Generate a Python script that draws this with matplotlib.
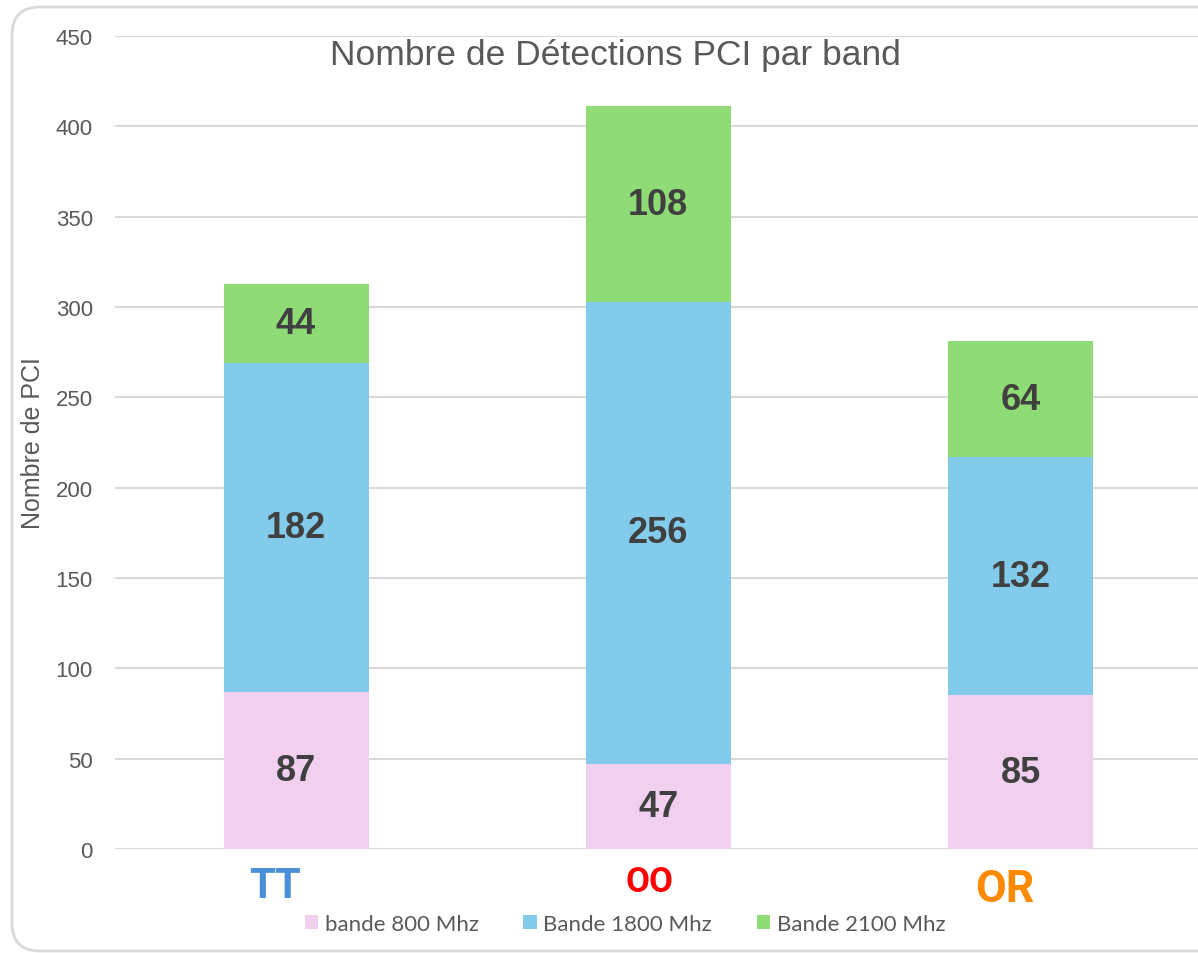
import numpy as np
import matplotlib
matplotlib.use('Agg')
import matplotlib.pyplot as plt
from matplotlib.patches import FancyBboxPatch
from matplotlib.transforms import IdentityTransform, ScaledTranslation

operators = ['TT', 'OO', 'OR']
op_colors = ['#4A90D9', '#FF0000', '#FF8A00']
op_sizes = [30, 25, 32]
band_800 = [87, 47, 85]
band_1800 = [182, 256, 132]
band_2100 = [44, 108, 64]
series_names = ['bande 800 Mhz', 'Bande 1800 Mhz', 'Bande 2100 Mhz']
series_colors = ['#F1CFEE', '#83CBEA', '#8FDB75']
yticks = [0, 50, 100, 150, 200, 250, 300, 350, 400, 450]

plt.rcParams['font.family'] = ['Liberation Sans', 'DejaVu Sans']

fig = plt.figure(figsize=(11.98, 9.54), dpi=100)
ax = fig.add_axes([115/1198, 1 - 850/954, 1 - 115/1198, (850 - 37)/954])

x = np.arange(len(operators))
width = 0.40
bottom = np.zeros(len(operators))
bars_all = []
for vals, name, col in zip([band_800, band_1800, band_2100], series_names, series_colors):
    bars = ax.bar(x, vals, width, bottom=bottom, color=col, label=name, zorder=3)
    bars_all.append(bars)
    for xi, b, v in zip(x, bottom, vals):
        ax.text(xi, b + v / 2, str(v), ha='center', va='center', fontsize=26,
                fontweight='bold', color='#404040', zorder=4)
    bottom = bottom + np.array(vals)

ax.set_xlim(-0.5, 2.49)
ax.set_ylim(0, 450)
ax.set_yticks(yticks)
ax.yaxis.grid(True, color='#D9D9D9', lw=1.5, zorder=0)
ax.set_axisbelow(True)
for s in ax.spines.values():
    s.set_visible(False)
ax.tick_params(axis='y', length=0, labelsize=16, labelcolor='#595959', pad=16)
ax.set_xticks(x)
ax.set_xticklabels([])
ax.tick_params(axis='x', length=0)

# operator names sit a little left of the bar centres, as in the original
shifts = [(-21, -48), (-9, -42), (-16, -52)]
for xi, name, c, sz, (dx, dy) in zip(x, operators, op_colors, op_sizes, shifts):
    tr = ax.get_xaxis_transform() + ScaledTranslation(dx / 100, dy / 100, fig.dpi_scale_trans)
    ax.text(xi, 0, name, transform=tr, ha='center', va='baseline', color=c, fontsize=sz,
            fontweight='bold', family=['Roboto', 'DejaVu Sans'])

fig.text(33/1198, 1 - 443/954, 'Nombre de PCI', rotation=90, ha='center', va='center',
         fontsize=18, color='#595959')
fig.text(615/1198, 1 - 55/954, 'Nombre de Détections PCI par band', ha='center', va='center',
         fontsize=25.5, color='#595959')

leg = fig.legend(handles=bars_all, labels=series_names, loc='center',
                 bbox_to_anchor=(625/1198, 1 - 925/954), ncol=3, frameon=False,
                 handlelength=0.6, handleheight=0.6, handletextpad=0.3, columnspacing=2.0,
                 prop={'family': 'Lato', 'size': 16})
for t in leg.get_texts():
    t.set_color('#595959')

frame = FancyBboxPatch((12, 2), 1260, 944, boxstyle='round,pad=0,rounding_size=28',
                       transform=IdentityTransform(), facecolor='none', edgecolor='#D9D9D9',
                       lw=2)
fig.patches.append(frame)

fig.savefig('out.png', dpi=100)
